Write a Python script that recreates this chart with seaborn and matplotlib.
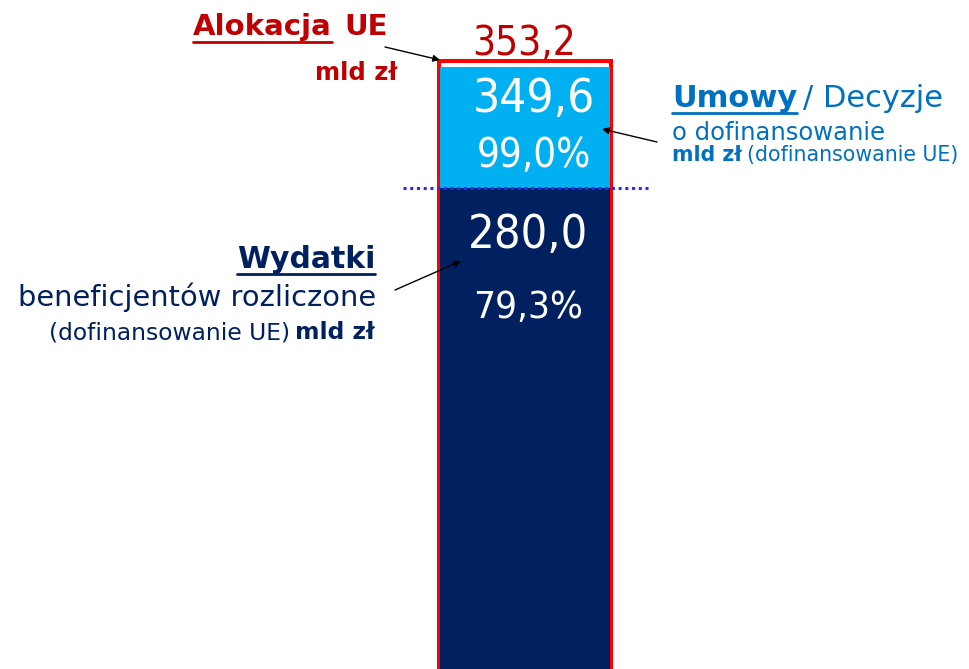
import matplotlib
matplotlib.use("Agg")
import matplotlib.pyplot as plt
from matplotlib import font_manager
from matplotlib.lines import Line2D
import seaborn as sns
import pandas as pd

# values (mld zł)
layers = ["Alokacja UE", "Umowy", "Wydatki"]
values = [353.2, 349.6, 280.0]
value_labels = ["353,2", "349,6", "280,0"]
pct_labels = ["99,0%", "79,3%"]

W, H = 970, 669
DARK_RED = "#c00000"
BLUE_TXT = "#0070c0"
NAVY = "#002060"
LIGHT_BLUE = "#00b0f0"

sns.set_theme(style="white")
plt.rcParams["font.family"] = ["DejaVu Sans"]

# look for any narrow / condensed face for the big numbers
narrow_file = None
for f in sorted(font_manager.fontManager.ttflist, key=lambda e: e.fname):
    tag = (f.name + " " + f.fname).lower()
    if ("narrow" in tag or "condensed" in tag or f.stretch in ("condensed", "semi-condensed")) \
            and "bold" not in tag and "italic" not in tag and "oblique" not in tag:
        narrow_file = f.fname
        break
NUM_FONT = font_manager.FontProperties(fname=narrow_file) if narrow_file else \
    font_manager.FontProperties(family="Liberation Sans")

fig = plt.figure(figsize=(W / 100, H / 100), dpi=100)
ax = fig.add_axes([0, 0, 1, 1])

df = pd.DataFrame({"layer": layers, "value": values, "pos": [""] * 3})

# outer allocation frame, then contracts, then expenditure
sns.barplot(data=df.iloc[[0]], x="pos", y="value", width=0.8, color="white",
            edgecolor="#ff0000", linewidth=2.9, saturation=1, ax=ax, zorder=1)
sns.barplot(data=df.iloc[[1]], x="pos", y="value", width=0.784, color=LIGHT_BLUE,
            linewidth=0, saturation=1, ax=ax, zorder=2)
sns.barplot(data=df.iloc[[2]], x="pos", y="value", width=0.784, color=NAVY,
            linewidth=0, saturation=1, ax=ax, zorder=3)

ax.axhline(values[2], xmin=403 / W, xmax=648 / W, color="#2a2aff",
           ls=(0, (1, 1.2)), lw=2.2, zorder=5)

ax.set_xlim(-2.435, 2.064)
ax.set_ylim(2.8, 388.4)
ax.axis("off")


def px(x, y):
    return x / W, 1 - y / H


def put(x, y, s, **kw):
    kw.setdefault("va", "baseline")
    return fig.text(*px(x, y), s, **kw)


fig.canvas.draw()
r = fig.canvas.get_renderer()


def ext(t):
    b = t.get_window_extent(r)
    return b.x0, b.x1


def number(x, y, s, color, size, width):
    # big figure, shrunk if the face is wider than the slide's one
    t = put(x, y, s, ha="center", color=color, fontproperties=NUM_FONT.copy())
    t.set_fontsize(size)
    x0, x1 = ext(t)
    if x1 - x0 > width:
        t.set_fontsize(size * width / (x1 - x0))
    return t


# numbers on the bar
number(524, 55, value_labels[0], DARK_RED, 35, 104)
number(534, 112, value_labels[1], "white", 37, 122)
number(534, 167, pct_labels[0], "white", 37, 114)
number(528, 248, value_labels[2], "white", 40, 120)
number(528, 318, pct_labels[1], "white", 36, 110)

# left labels
t_alok = put(193, 35, "Alokacja", ha="left", color=DARK_RED, fontsize=21, weight="bold")
put(388, 35, "UE", ha="right", color=DARK_RED, fontsize=21, weight="bold")
put(397, 80, "mld zł", ha="right", color=DARK_RED, fontsize=17.5, weight="bold")

t_wyd = put(375, 268, "Wydatki", ha="right", color=NAVY, fontsize=21.5, weight="bold")
put(376, 306, "beneficjentów rozliczone", ha="right", color=NAVY, fontsize=20.8)
t_mld = put(375, 339, "mld zł", ha="right", color=NAVY, fontsize=16.8, weight="bold")

# right labels
t_umowy = put(672, 107, "Umowy", ha="left", color=BLUE_TXT, fontsize=22, weight="bold")
put(672, 140, "o dofinansowanie", ha="left", color=BLUE_TXT, fontsize=17.5)
t_mld2 = put(672, 161, "mld zł", ha="left", color=BLUE_TXT, fontsize=14.8, weight="bold")

# texts that follow a bold word
put(ext(t_umowy)[1] + 6, 107, "/ Decyzje", ha="left", color=BLUE_TXT, fontsize=22)
put(ext(t_mld2)[1] + 5, 161, "(dofinansowanie UE)", ha="left", color=BLUE_TXT, fontsize=14.8)
put(ext(t_mld)[0] - 5, 339, "(dofinansowanie UE)", ha="right", color=NAVY, fontsize=16.8)

# underlines
for t, y, c in [(t_alok, 42, DARK_RED), (t_wyd, 274, NAVY), (t_umowy, 113, BLUE_TXT)]:
    x0, x1 = ext(t)
    fig.add_artist(Line2D([x0 / W, x1 / W], [1 - y / H] * 2, color=c, lw=2,
                          transform=fig.transFigure))

# arrows
arrow = dict(arrowstyle="-|>", color="black", lw=1, mutation_scale=10,
             shrinkA=0, shrinkB=0)
for tail, head in [((385, 47), (440, 60)), ((657, 142), (602, 129)),
                   ((395, 290), (461, 261))]:
    ax.annotate("", xy=px(*head), xytext=px(*tail), xycoords="figure fraction",
                textcoords="figure fraction", arrowprops=arrow)

fig.savefig("out.png", dpi=100)
